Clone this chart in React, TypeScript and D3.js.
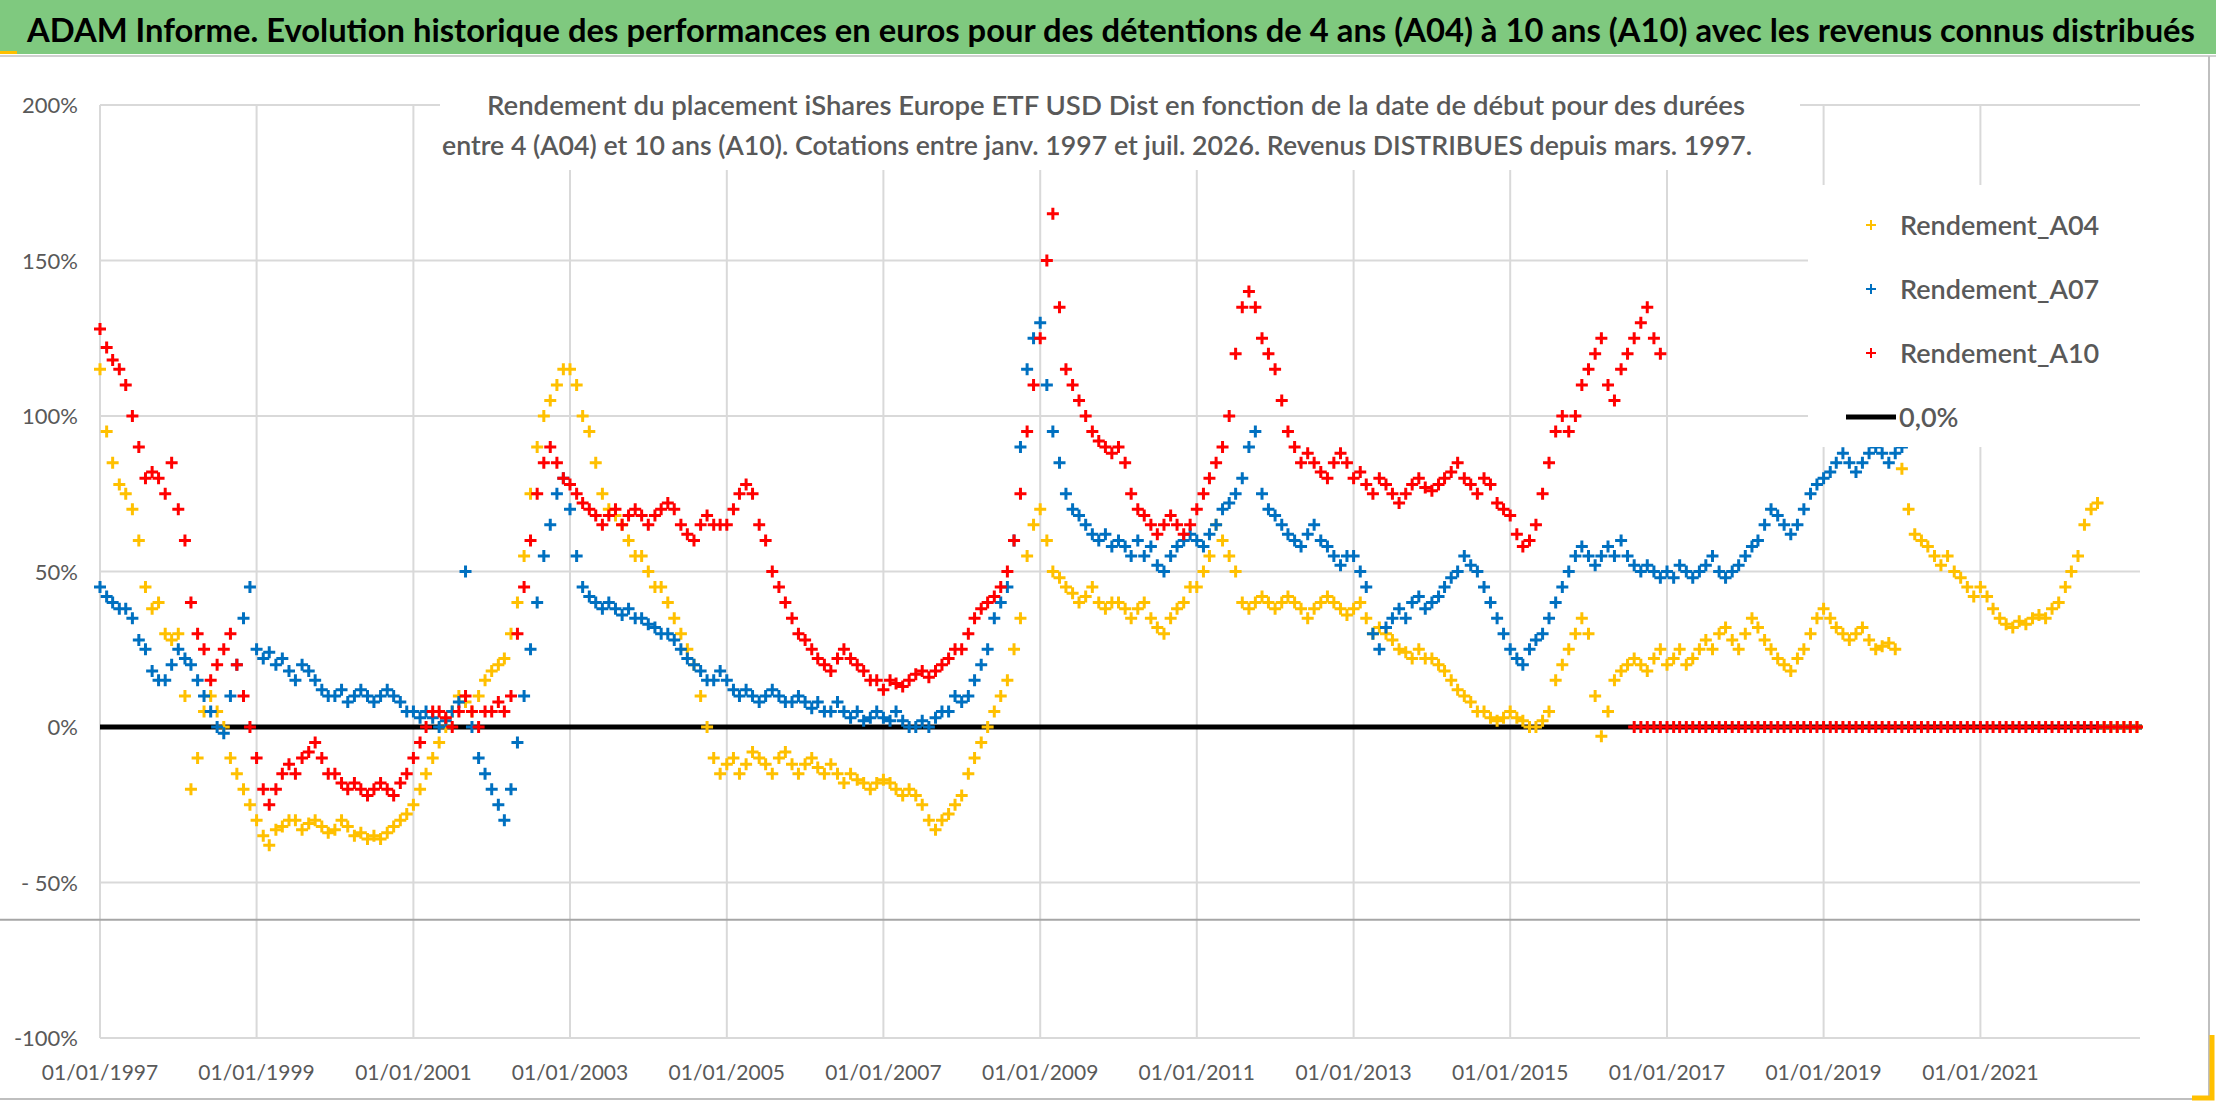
import { useEffect } from 'react';
import * as d3 from 'd3';

// Monthly values (%), one row per year starting January 1997
const a04Values = [
  115, 95, 85, 78, 75, 70, 60, 45, 38, 40, 30, 28,
  30, 10, -20, -10, 5, 10, 5, 0, -10, -15, -20, -25,
  -30, -35, -38, -33, -32, -30, -30, -33, -31, -30, -32, -34,
  -33, -30, -32, -35, -34, -36, -35, -36, -34, -32, -30, -28,
  -25, -20, -15, -10, -5, 0, 5, 10, 8, 5, 10, 15,
  18, 20, 22, 30, 40, 55, 75, 90, 100, 105, 110, 115,
  115, 110, 100, 95, 85, 75, 70, 68, 65, 60, 55, 55,
  50, 45, 45, 40, 35, 30, 25, 20, 10, 0, -10, -15,
  -12, -10, -15, -12, -8, -10, -12, -15, -10, -8, -12, -15,
  -12, -10, -13, -15, -12, -15, -18, -15, -17, -18, -20, -18,
  -17, -18, -20, -22, -20, -22, -25, -30, -33, -30, -28, -25,
  -22, -15, -10, -5, 0, 5, 10, 15, 25, 35, 55, 65,
  70, 60, 50, 48, 45, 43, 40, 42, 45, 40, 38, 40,
  40, 38, 35, 38, 40, 35, 32, 30, 35, 38, 40, 45,
  45, 50, 55, 65, 60, 55, 50, 40, 38, 40, 42, 40,
  38, 40, 42, 40, 38, 35, 38, 40, 42, 40, 38, 36,
  38, 40, 35, 30, 32, 30, 28, 25, 24, 22, 25, 22,
  22, 20, 18, 15, 12, 10, 8, 5, 5, 3, 2, 3,
  5, 3, 2, 0, 0, 2, 5, 15, 20, 25, 30, 35,
  30, 10, -3, 5, 15, 18, 20, 22, 20, 18, 22, 25,
  20, 22, 25, 20, 22, 25, 28, 25, 30, 32, 28, 25,
  30, 35, 32, 28, 25, 22, 20, 18, 22, 25, 30, 35,
  38, 35, 32, 30, 28, 30, 32, 28, 25, 26, 27, 25,
  83, 70, 62, 60, 58, 55, 52, 55, 50, 48, 45, 42,
  45, 42, 38, 35, 33, 32, 34, 33, 35, 36, 35, 38,
  40, 45, 50, 55, 65, 70, 72, 0, 0, 0, 0, 0,
  0,
];

const a07Values = [
  45, 42, 40, 38, 38, 35, 28, 25, 18, 15, 15, 20,
  25, 22, 20, 15, 10, 5, 0, -2, 10, 20, 35, 45,
  25, 22, 24, 20, 22, 18, 15, 20, 18, 15, 12, 10,
  10, 12, 8, 10, 12, 10, 8, 10, 12, 10, 8, 5,
  5, 3, 5, 3, 0, 2, 5, 8, 50, 0, -10, -15,
  -20, -25, -30, -20, -5, 10, 25, 40, 55, 65, 75, 80,
  70, 55, 45, 42, 40, 38, 40, 38, 36, 38, 35, 35,
  33, 32, 30, 30, 28, 25, 22, 20, 18, 15, 15, 18,
  15, 12, 10, 12, 10, 8, 10, 12, 10, 8, 8, 10,
  8, 6, 8, 5, 5, 8, 5, 3, 5, 2, 3, 5,
  3, 2, 5, 2, 0, 0, 2, 0, 3, 5, 5, 10,
  8, 10, 15, 20, 25, 35, 40, 45, 60, 90, 115, 125,
  130, 110, 95, 85, 75, 70, 68, 65, 62, 60, 62, 58,
  60, 58, 55, 60, 55, 58, 52, 50, 55, 58, 60, 62,
  60, 58, 62, 65, 70, 72, 75, 80, 90, 95, 75, 70,
  68, 65, 62, 60, 58, 62, 65, 60, 58, 55, 52, 55,
  55, 50, 45, 30, 25, 32, 35, 38, 35, 40, 42, 38,
  40, 42, 45, 48, 50, 55, 52, 50, 45, 40, 35, 30,
  25, 22, 20, 25, 28, 30, 35, 40, 45, 50, 55, 58,
  55, 52, 55, 58, 55, 60, 55, 52, 50, 52, 50, 48,
  50, 48, 52, 50, 48, 50, 52, 55, 50, 48, 50, 52,
  55, 58, 60, 65, 70, 68, 65, 62, 65, 70, 75, 78,
  80, 82, 85, 88, 85, 82, 85, 88, 90, 88, 85, 88,
  90, 92, 95, 98, 95, 92, 95,
];

const a10Values = [
  128, 122, 118, 115, 110, 100, 90, 80, 82, 80, 75, 85,
  70, 60, 40, 30, 25, 15, 20, 25, 30, 20, 10, 0,
  -10, -20, -25, -20, -15, -12, -15, -10, -8, -5, -10, -15,
  -15, -18, -20, -18, -20, -22, -20, -18, -20, -22, -18, -15,
  -10, -5, 0, 5, 5, 3, 0, 5, 10, 5, 0, 5,
  5, 8, 5, 10, 30, 45, 60, 75, 85, 90, 85, 80,
  78, 75, 72, 70, 68, 65, 68, 70, 65, 68, 70, 68,
  65, 68, 70, 72, 70, 65, 62, 60, 65, 68, 65, 65,
  65, 70, 75, 78, 75, 65, 60, 50, 45, 40, 35, 30,
  28, 25, 22, 20, 18, 22, 25, 22, 20, 18, 15, 15,
  12, 15, 14, 13, 15, 17, 18, 16, 18, 20, 22, 25,
  25, 30, 35, 38, 40, 42, 45, 50, 60, 75, 95, 110,
  125, 150, 165, 135, 115, 110, 105, 100, 95, 92, 90, 88,
  90, 85, 75, 70, 68, 65, 62, 65, 68, 65, 62, 65,
  70, 75, 80, 85, 90, 100, 120, 135, 140, 135, 125, 120,
  115, 105, 95, 90, 85, 88, 85, 82, 80, 85, 88, 85,
  80, 82, 78, 75, 80, 78, 75, 72, 75, 78, 80, 77,
  76, 78, 80, 82, 85, 80, 78, 75, 80, 78, 72, 70,
  68, 62, 58, 60, 65, 75, 85, 95, 100, 95, 100, 110,
  115, 120, 125, 110, 105, 115, 120, 125, 130, 135, 125, 120,
];

// A10 values after the end of known data (from August 2016)
const a10ZeroStart = [2016, 7];
const a10ZeroValues = [
  0, 0, 0, 0, 0,
  0, 0, 0, 0, 0, 0, 0, 0, 0, 0, 0, 0,
  0, 0, 0, 0, 0, 0, 0, 0, 0, 0, 0, 0,
  0, 0, 0, 0, 0, 0, 0, 0, 0, 0, 0, 0,
  0, 0, 0, 0, 0, 0, 0, 0, 0, 0, 0, 0,
  0, 0, 0, 0, 0, 0, 0, 0, 0, 0, 0, 0,
  0, 0, 0, 0, 0, 0, 0, 0, 0, 0, 0, 0,
  0,
];

const yTicks = [200, 150, 100, 50, 0, -50, -100];
const yTickLabels = ['200%', '150%', '100%', '50%', '0%', '- 50%', '-100%'];
const xTickYears = [1997, 1999, 2001, 2003, 2005, 2007, 2009, 2011, 2013, 2015, 2017, 2019, 2021];
const refLineValue = -62;

const legendItems = [
  { label: 'Rendement_A04', color: '#FFC000' },
  { label: 'Rendement_A07', color: '#0070C0' },
  { label: 'Rendement_A10', color: '#FF0000' },
];

const W = 2216;
const H = 1102;

export default function App() {
  useEffect(() => {
    document.body.style.margin = '0';
    const svg = d3.select('#chart');
    svg.selectAll('*').remove();

    const x = d3.scaleTime()
      .domain([new Date(1997, 0, 1), new Date(2023, 0, 1)])
      .range([100, 2137]);
    const y = d3.scaleLinear().domain([-100, 200]).range([1038, 105]);
    const font = 'Lato, "Open Sans", sans-serif';

    svg.append('rect').attr('width', W).attr('height', H).attr('fill', '#fff');

    // title bar
    svg.append('rect').attr('x', 0).attr('y', 0).attr('width', W).attr('height', 54).attr('fill', '#7FC97F');
    svg.append('rect').attr('x', 0).attr('y', 51).attr('width', 17).attr('height', 3).attr('fill', '#FFC000');
    svg.append('text')
      .attr('x', 27).attr('y', 42)
      .attr('font-family', font).attr('font-weight', 700).attr('font-size', 33)
      .attr('textLength', 2168).attr('lengthAdjust', 'spacingAndGlyphs')
      .attr('fill', '#000')
      .text('ADAM Informe. Evolution historique des performances en euros pour des détentions de 4 ans (A04) à 10 ans (A10) avec les revenus connus distribués');

    // frame
    svg.append('line').attr('x1', 0).attr('x2', W).attr('y1', 56).attr('y2', 56).attr('stroke', '#d0d0d0').attr('stroke-width', 2);
    svg.append('line').attr('x1', 2209).attr('x2', 2209).attr('y1', 56).attr('y2', 1100).attr('stroke', '#bfbfbf').attr('stroke-width', 2);
    svg.append('line').attr('x1', 0).attr('x2', 2209).attr('y1', 1099).attr('y2', 1099).attr('stroke', '#bfbfbf').attr('stroke-width', 2);
    svg.append('path').attr('d', 'M2192,1098 H2212 V1035').attr('fill', 'none').attr('stroke', '#FFC000').attr('stroke-width', 5);

    // gridlines
    const g = svg.append('g');
    yTicks.forEach((t) => {
      g.append('line').attr('x1', 100).attr('x2', 2140).attr('y1', y(t)).attr('y2', y(t))
        .attr('stroke', '#d9d9d9').attr('stroke-width', 2);
    });
    xTickYears.forEach((yr) => {
      const xx = x(new Date(yr, 0, 1));
      g.append('line').attr('x1', xx).attr('x2', xx).attr('y1', y(200)).attr('y2', y(-100))
        .attr('stroke', '#d9d9d9').attr('stroke-width', 2);
    });
    g.append('line').attr('x1', 0).attr('x2', 2140).attr('y1', y(refLineValue)).attr('y2', y(refLineValue))
      .attr('stroke', '#a6a6a6').attr('stroke-width', 2);

    // axis labels
    yTicks.forEach((t, i) => {
      svg.append('text').attr('x', 78).attr('y', y(t) + 8).attr('text-anchor', 'end')
        .attr('font-family', font).attr('font-size', 22).attr('fill', '#595959').text(yTickLabels[i]);
    });
    xTickYears.forEach((yr) => {
      svg.append('text').attr('x', x(new Date(yr, 0, 1))).attr('y', 1080).attr('text-anchor', 'middle')
        .attr('font-family', font).attr('font-size', 21).attr('fill', '#595959').text(`01/01/${yr}`);
    });

    // zero line
    svg.append('line').attr('x1', x(new Date(1997, 0, 1))).attr('x2', 2142).attr('y1', y(0)).attr('y2', y(0))
      .attr('stroke', '#000').attr('stroke-width', 5);

    const plus = (cx: number, cy: number, s: number) => `M${cx - s},${cy}H${cx + s}M${cx},${cy - s}V${cy + s}`;
    const drawSeries = (vals: number[], color: string, startY: number, startM: number) => {
      const d = vals.map((v, i) => plus(x(new Date(startY, startM + i, 1)), y(v), 6)).join('');
      svg.append('path').attr('d', d).attr('stroke', color).attr('stroke-width', 3).attr('fill', 'none');
    };
    drawSeries(a04Values, '#FFC000', 1997, 0);
    drawSeries(a07Values, '#0070C0', 1997, 0);
    drawSeries(a10Values, '#FF0000', 1997, 0);
    drawSeries(a10ZeroValues, '#FF0000', a10ZeroStart[0], a10ZeroStart[1]);

    // subtitle box
    svg.append('rect').attr('x', 440).attr('y', 78).attr('width', 1360).attr('height', 92).attr('fill', '#fff');
    svg.append('text').attr('x', 1116).attr('y', 115).attr('text-anchor', 'middle')
      .attr('font-family', font).attr('font-size', 26).attr('font-weight', 600).attr('fill', '#595959')
      .attr('textLength', 1258).attr('lengthAdjust', 'spacingAndGlyphs')
      .text('Rendement du placement iShares Europe ETF USD Dist en fonction de la date de début pour des durées');
    svg.append('text').attr('x', 1097).attr('y', 155).attr('text-anchor', 'middle')
      .attr('font-family', font).attr('font-size', 26).attr('font-weight', 600).attr('fill', '#595959')
      .attr('textLength', 1310).attr('lengthAdjust', 'spacingAndGlyphs')
      .text('entre 4 (A04) et 10 ans (A10). Cotations entre janv. 1997 et juil. 2026. Revenus DISTRIBUES depuis mars. 1997.');

    // legend
    svg.append('rect').attr('x', 1808).attr('y', 185).attr('width', 332).attr('height', 262).attr('fill', '#fff');
    legendItems.forEach((it, i) => {
      const cy = 225 + i * 64;
      svg.append('path').attr('d', plus(1871, cy, 5)).attr('stroke', it.color).attr('stroke-width', 2);
      svg.append('text').attr('x', 1900).attr('y', cy + 10).attr('font-family', font).attr('font-size', 27)
        .attr('font-weight', 600).attr('fill', '#595959').text(it.label);
    });
    svg.append('line').attr('x1', 1846).attr('x2', 1896).attr('y1', 417).attr('y2', 417).attr('stroke', '#000').attr('stroke-width', 5);
    svg.append('text').attr('x', 1899).attr('y', 427).attr('font-family', font).attr('font-size', 27)
      .attr('font-weight', 600).attr('fill', '#595959').text('0,0%');
  }, []);

  return (
    <div style={{ position: 'absolute', left: 0, top: 0 }}>
      <svg id="chart" width={W} height={H} />
    </div>
  );
}
